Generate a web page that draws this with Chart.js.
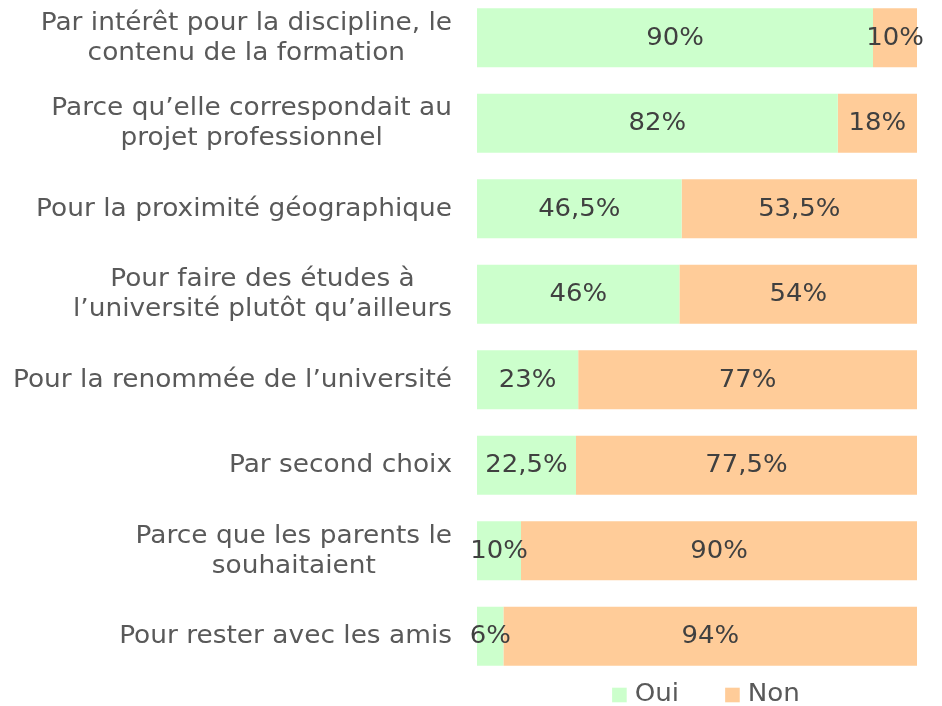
<!DOCTYPE html>
<html>
<head>
<meta charset="utf-8">
<script src="https://cdn.jsdelivr.net/npm/chart.js@4/dist/chart.umd.min.js"></script>
<style>
    html, body { margin: 0; padding: 0; background: #ffffff; }
    #wrap { position: relative; width: 942px; height: 706px; overflow: hidden; }
    #motifsChart { display: block; margin-top: -6px; }
</style>
</head>
<body>
<div id="wrap"><canvas id="motifsChart" width="942" height="712"></canvas></div>
<script>
const categories = [
    ["Par intérêt pour la discipline, le", "contenu de la formation"],
    ["Parce qu’elle correspondait au", "projet professionnel"],
    ["Pour la proximité géographique"],
    ["Pour faire des études à", "l’université plutôt qu’ailleurs"],
    ["Pour la renommée de l’université"],
    ["Par second choix"],
    ["Parce que les parents le", "souhaitaient"],
    ["Pour rester avec les amis"],
];
const oui = [90, 82, 46.5, 46, 23, 22.5, 10, 6];
const non = [10, 18, 53.5, 54, 77, 77.5, 90, 94];
const seriesNames = ["Oui", "Non"];
const seriesColors = ["#ccffcc", "#ffcc99"];

const FONT = "'DejaVu Sans', sans-serif";

// wide text: the original face is broader than DejaVu, so stretch horizontally
function wideText(ctx, text, x, y, sx) {
    ctx.save();
    ctx.translate(x, y);
    ctx.scale(sx, 1);
    ctx.fillText(text, 0, 0);
    ctx.restore();
}

// y labels: block right-aligned, lines centred inside the block
const categoryLabels = {
    id: "categoryLabels",
    afterDraw(chart) {
        const ctx = chart.ctx;
        const yScale = chart.scales.y;
        const right = chart.chartArea.left - 25;
        const sx = 1.1;
        ctx.save();
        ctx.font = "24px " + FONT;
        ctx.fillStyle = "#595959";
        ctx.textAlign = "center";
        ctx.textBaseline = "middle";
        categories.forEach((lines, i) => {
            const y = yScale.getPixelForValue(i) + 1;
            const w = sx * Math.max(...lines.map((l) => ctx.measureText(l).width));
            const cx = right - w / 2;
            const lineH = 30;
            const top = y - ((lines.length - 1) * lineH) / 2;
            lines.forEach((l, k) => wideText(ctx, l, cx, top + k * lineH, sx));
        });
        ctx.restore();
    },
};

// percentage labels centred in each segment
const segmentLabels = {
    id: "segmentLabels",
    afterDatasetsDraw(chart) {
        const ctx = chart.ctx;
        ctx.save();
        ctx.font = "24px " + FONT;
        ctx.fillStyle = "#404040";
        ctx.textAlign = "center";
        ctx.textBaseline = "middle";
        chart.data.datasets.forEach((ds, di) => {
            chart.getDatasetMeta(di).data.forEach((bar, i) => {
                const cx = (bar.x + bar.base) / 2;
                wideText(ctx, String(ds.data[i]).replace(".", ",") + "%", cx, bar.y + 1, 1.08);
            });
        });
        ctx.restore();
    },
};

// legend under the bars
const bottomLegend = {
    id: "bottomLegend",
    afterDraw(chart) {
        const ctx = chart.ctx;
        const area = chart.chartArea;
        const box = 14.6;
        const gap = 8;
        const between = 46;
        const sx = 1.09;
        ctx.save();
        ctx.font = "24px " + FONT;
        ctx.textBaseline = "middle";
        ctx.textAlign = "left";
        const widths = chart.data.datasets.map((ds) => sx * ctx.measureText(ds.label).width);
        const total = widths.reduce((a, w) => a + box + gap + w, 0) + between * (widths.length - 1);
        let x = (area.left + area.right) / 2 + 9 - total / 2;
        const y = area.bottom + 16;
        chart.data.datasets.forEach((ds, i) => {
            ctx.fillStyle = ds.backgroundColor;
            ctx.fillRect(x, y - box / 2, box, box);
            ctx.fillStyle = "#595959";
            wideText(ctx, ds.label, x + box + gap, y, sx);
            x += box + gap + widths[i] + between;
        });
        ctx.restore();
    },
};

new Chart(document.getElementById("motifsChart"), {
    type: "bar",
    data: {
        labels: categories,
        datasets: [
            {
                label: seriesNames[0],
                data: oui,
                backgroundColor: seriesColors[0],
                barPercentage: 0.69,
                categoryPercentage: 1,
            },
            {
                label: seriesNames[1],
                data: non,
                backgroundColor: seriesColors[1],
                barPercentage: 0.69,
                categoryPercentage: 1,
            },
        ],
    },
    options: {
        indexAxis: "y",
        responsive: false,
        animation: false,
        layout: {
            padding: { left: 477, right: 25, top: 1, bottom: 27 },
        },
        scales: {
            x: { stacked: true, min: 0, max: 100, display: false },
            y: { stacked: true, display: false },
        },
        plugins: {
            tooltip: { enabled: false },
            legend: { display: false },
        },
    },
    plugins: [categoryLabels, segmentLabels, bottomLegend],
});
</script>
</body>
</html>
